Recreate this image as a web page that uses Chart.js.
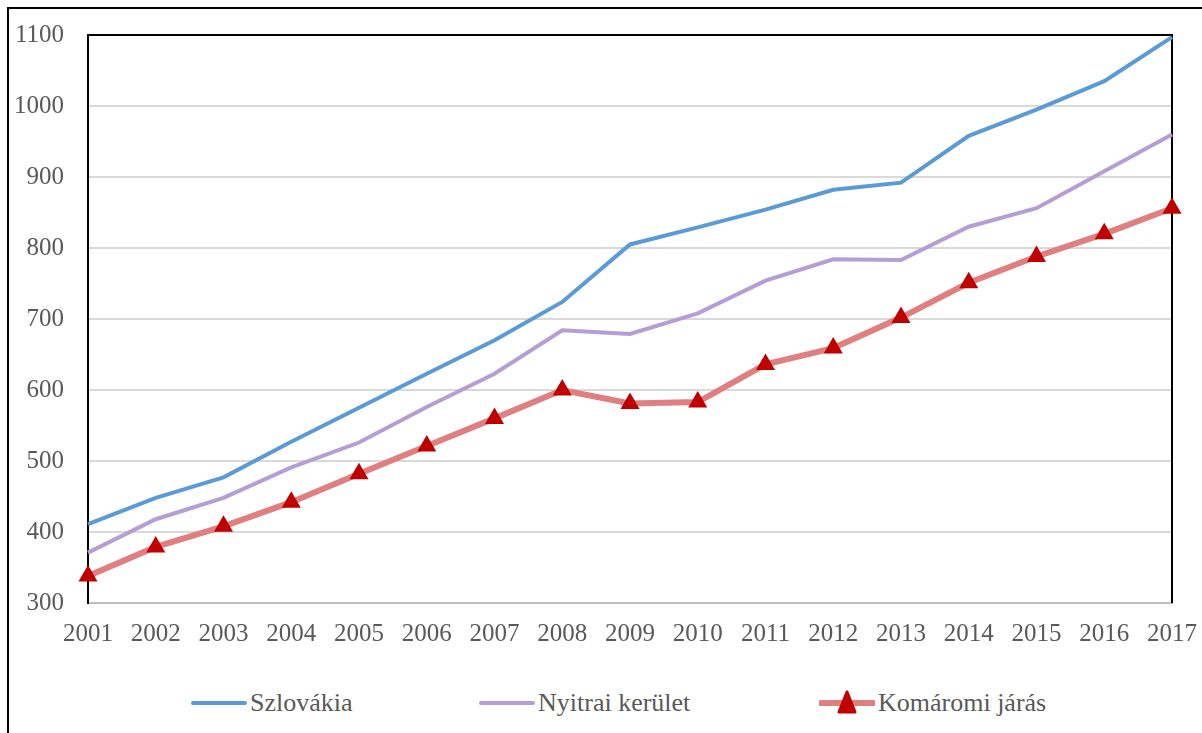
<!DOCTYPE html>
<html>
<head>
<meta charset="utf-8">
<script src="https://cdn.jsdelivr.net/npm/chart.js@4"></script>
<style>
  html, body { margin: 0; padding: 0; background: #fff; }
  body { width: 1202px; height: 733px; position: relative; overflow: hidden; }
  #frame { position: absolute; left: 7px; top: 7px; width: 1300px; height: 800px;
           border-left: 2px solid #000; border-top: 2px solid #000; }
  #wrap { position: absolute; left: 0; top: 0; width: 1202px; height: 660px; }
  #legend { position: absolute; left: 0; top: 688px; width: 1202px; height: 30px;
            font-family: "Liberation Serif", "Times New Roman", serif; font-size: 26px; color: #595959; }
  .item { position: absolute; top: 0; height: 30px; display: flex; align-items: center; white-space: nowrap; }
  .item svg { margin-right: 3px; }
</style>
</head>
<body>
<div id="frame"></div>
<div id="wrap"><canvas id="myChart"></canvas></div>
<div id="legend"></div>
<script>
var years = ["2001","2002","2003","2004","2005","2006","2007","2008","2009","2010","2011","2012","2013","2014","2015","2016","2017"];

var szlovakia = [411, 448, 477, 527, 575, 623, 670, 724, 805, 829, 854, 882, 892, 958, 995, 1035, 1097];
var nyitrai   = [371, 418, 448, 491, 526, 576, 623, 684, 679, 708, 754, 784, 783, 830, 856, 908, 960];
var komaromi  = [338, 379, 408, 442, 482, 521, 560, 600, 581, 583, 636, 659, 702, 751, 788, 820, 856];

var seriesNames = ["Szlovákia", "Nyitrai kerület", "Komáromi járás"];
var legendLeft = [191, 479, 819];

var myChart;

// draws the black frame on top, left and right of the plot area
const plotFrame = {
    id: "plotFrame",
    beforeDatasetsDraw(chart){
        const a = chart.chartArea;
        const ctx = chart.ctx;
        ctx.save();
        ctx.strokeStyle = "#000";
        ctx.lineWidth = 2;
        ctx.beginPath();
        ctx.moveTo(a.left, a.bottom);
        ctx.lineTo(a.left, a.top);
        ctx.lineTo(a.right, a.top);
        ctx.lineTo(a.right, a.bottom);
        ctx.stroke();
        ctx.restore();
    }
};

function showChart(){

    if(myChart){
       myChart.destroy();
    }

    const chartData = {
        labels: years,
        datasets: [{
            label: seriesNames[0],
            data: szlovakia,
            borderColor: "#5B9BD5",
            borderWidth: 4,
            pointRadius: 0,
            fill: false,
            order: 3
        },
        {
            label: seriesNames[1],
            data: nyitrai,
            borderColor: "#B59DD6",
            borderWidth: 4,
            pointRadius: 0,
            fill: false,
            order: 2
        },
        {
            label: seriesNames[2],
            data: komaromi,
            borderColor: "#E07F80",
            borderWidth: 6,
            pointStyle: "triangle",
            pointRadius: 9,
            pointBorderWidth: 2,
            pointBackgroundColor: "#C00000",
            pointBorderColor: "#C00000",
            fill: false,
            clip: false,
            order: 1
        }]
    };

    const tickFont = { family: "'Liberation Serif', 'Times New Roman', serif", size: 25 };

    const config = {
        type: "line",
        data: chartData,
        options: {
            responsive: true,
            maintainAspectRatio: false,
            animation: false,
            layout: { padding: { top: 35, right: 30, left: 0, bottom: 0 } },
            plugins: { legend: { display: false }, tooltip: { enabled: false } },
            scales: {
                x: {
                    offset: false,
                    grid: { display: false, drawTicks: false },
                    border: { display: true, color: "#BFBFBF", width: 2 },
                    ticks: { color: "#595959", font: tickFont, padding: 16, maxRotation: 0, autoSkip: false },
                    afterFit: function(scale){
                        scale.height = 57;
                        scale.paddingLeft = 0;
                        scale.paddingRight = 0;
                    }
                },
                y: {
                    min: 300,
                    max: 1100,
                    ticks: { stepSize: 100, color: "#595959", font: tickFont, padding: 24,
                             callback: function(v){ return String(v); } },
                    grid: { color: "#D9D9D9", lineWidth: 2, drawTicks: false },
                    border: { display: true, color: "#000", width: 2 },
                    afterFit: function(scale){
                        scale.width = 88;
                        scale.paddingTop = 0;
                        scale.paddingBottom = 0;
                    }
                }
            }
        },
        plugins: [plotFrame]
    };

    myChart = new Chart(
        document.getElementById('myChart'),
        config
    );

    buildLegend(chartData.datasets);
}

// legend below the chart, one line sample per series (with triangle for the marked one)
function buildLegend(datasets){
    const box = document.getElementById("legend");
    box.innerHTML = "";
    datasets.forEach((ds, i) => {
        const item = document.createElement("div");
        item.className = "item";
        item.style.left = legendLeft[i] + "px";
        let svg = '<svg width="56" height="28" viewBox="0 0 56 28">' +
            '<line x1="2" y1="14" x2="54" y2="14" stroke="' + ds.borderColor + '" stroke-width="' + ds.borderWidth + '" stroke-linecap="round"/>';
        if(ds.pointStyle === "triangle"){
            svg += '<polygon points="28,3 36,23 20,23" fill="#C00000" stroke="#C00000" stroke-width="3" stroke-linejoin="round"/>';
        }
        svg += '</svg>';
        item.innerHTML = svg + '<span>' + ds.label + '</span>';
        box.appendChild(item);
    });
}

showChart();
</script>
</body>
</html>
